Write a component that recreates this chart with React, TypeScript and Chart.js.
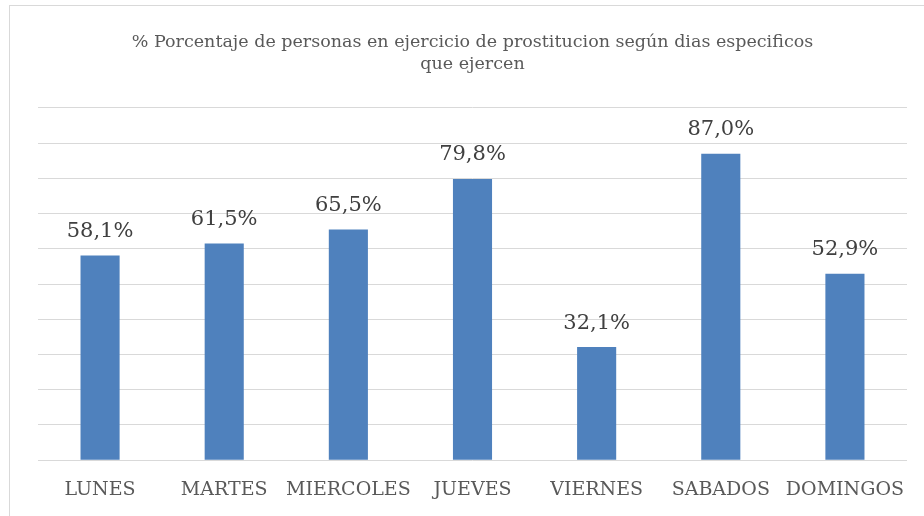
import React, { useEffect, useRef } from "react";
import { Chart, registerables } from "chart.js";

Chart.register(...registerables);

const categories = ["LUNES", "MARTES", "MIERCOLES", "JUEVES", "VIERNES", "SABADOS", "DOMINGOS"];
const values = [58.1, 61.5, 65.5, 79.8, 32.1, 87.0, 52.9];
const titleLines = [
  "% Porcentaje de personas en ejercicio de prostitucion según dias especificos",
  "que ejercen",
];

const FONT = "'DejaVu Serif', 'Liberation Serif', serif";

const labelPlugin = {
  id: "barLabels",
  afterDatasetsDraw(chart: any) {
    const ctx = chart.ctx;
    const meta = chart.getDatasetMeta(0);
    ctx.save();
    ctx.font = `21px ${FONT}`;
    ctx.fillStyle = "#404040";
    ctx.textAlign = "center";
    ctx.textBaseline = "middle";
    meta.data.forEach((bar: any, i: number) => {
      const txt = values[i].toFixed(1).replace(".", ",") + "%";
      ctx.fillText(txt, bar.x, bar.y - 24);
    });
    ctx.restore();
  },
};

export default function App() {
  const ref = useRef<HTMLCanvasElement>(null);
  useEffect(() => {
    if (!ref.current) return;
    const chart = new Chart(ref.current, {
      type: "bar",
      data: {
        labels: categories,
        datasets: [
          {
            data: values,
            backgroundColor: "#4F81BD",
            barPercentage: 0.315,
            categoryPercentage: 1,
          },
        ],
      },
      options: {
        animation: false,
        responsive: false,
        layout: { padding: { left: 38, right: 17, top: 0, bottom: 11 } },
        plugins: {
          legend: { display: false },
          tooltip: { enabled: false },
          title: {
            display: true,
            text: titleLines,
            color: "#595959",
            font: { family: FONT, size: 17.5, weight: "normal", lineHeight: 1.31 },
            padding: { top: 30.5, bottom: 31.5 },
          },
        },
        scales: {
          x: {
            grid: { display: false, drawTicks: false },
            border: { display: false },
            ticks: {
              color: "#595959",
              font: { family: FONT, size: 19, lineHeight: 1.2 },
              padding: 18,
              maxRotation: 0,
              autoSkip: false,
            },
          },
          y: {
            min: 0,
            max: 100,
            ticks: { display: false, stepSize: 10 },
            grid: { color: "#d9d9d9", lineWidth: 1, drawTicks: false },
            border: { display: false },
          },
        },
      },
      plugins: [labelPlugin],
    });
    return () => chart.destroy();
  }, []);
  return (
    <div style={{ position: "fixed", left: 0, top: 0, width: 924, height: 516, overflow: "hidden", background: "#fff" }}>
      <div style={{ position: "absolute", left: 9, top: 5, width: 940, height: 540, border: "1px solid #d9d9d9", boxSizing: "border-box" }} />
      <canvas ref={ref} width={924} height={530} style={{ position: "absolute", left: 0, top: 0 }} />
    </div>
  );
}
